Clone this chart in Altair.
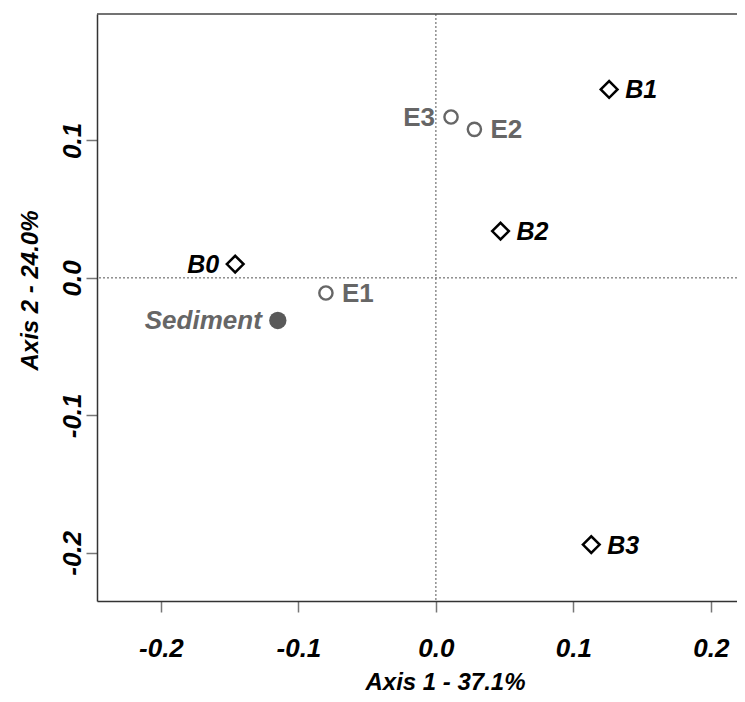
import altair as alt
import pandas as pd

# ---- data ----
labels = ["B0", "B1", "B2", "B3", "E1", "E2", "E3", "Sediment"]
axis1 = [-0.146, 0.126, 0.047, 0.113, -0.080, 0.028, 0.011, -0.115]
axis2 = [0.010, 0.137, 0.034, -0.194, -0.011, 0.108, 0.117, -0.031]
kind = ["B", "B", "B", "B", "E", "E", "E", "S"]
side = ["left", "right", "right", "right", "right", "right", "left", "left"]
tick_values = [-0.2, -0.1, 0.0, 0.1, 0.2]

df = pd.DataFrame({"lab": labels, "x": axis1, "y": axis2, "kind": kind, "side": side})
zero = pd.DataFrame({"v": [0.0]})

W, H = 640, 587
FONT = "Liberation Sans"

xscale = alt.Scale(domain=[-0.2465, 0.2190], nice=False, zero=False)
yscale = alt.Scale(domain=[-0.235, 0.1919], nice=False, zero=False)

lab_expr = "replace(format(datum.value, '.1f'), '\u2212', '-')"

xenc = alt.X("x:Q", scale=xscale, axis=alt.Axis(
    values=tick_values, labelExpr=lab_expr, title="Axis 1 - 37.1%",
    titleX=348, titleY=88, titleAnchor="start", titleAlign="center", titleBaseline="alphabetic",
    labelPadding=23, labelBaseline="top", labelFlush=False))
yenc = alt.Y("y:Q", scale=yscale, axis=alt.Axis(
    values=tick_values[:4], labelExpr=lab_expr, title="Axis 2 - 24.0%",
    titleAngle=-90, titleX=-60, titleY=276, titleAlign="center", titleBaseline="alphabetic",
    labelAngle=-90, labelAlign="center", labelBaseline="alphabetic", labelPadding=6,
    labelFlush=False))

base = alt.Chart(df)

vline = alt.Chart(zero).mark_rule(color="#555555", strokeDash=[2, 2], strokeWidth=1).encode(
    x=alt.X("v:Q", scale=xscale))
hline = alt.Chart(zero).mark_rule(color="#555555", strokeDash=[2, 2], strokeWidth=1).encode(
    y=alt.Y("v:Q", scale=yscale))
top = alt.Chart(zero).mark_rule(color="#444444", strokeWidth=1.5).encode(
    y=alt.value(0), x=alt.value(0), x2=alt.value(W))

diamonds = base.transform_filter("datum.kind == 'B'").mark_point(
    shape="diamond", filled=False, color="black", strokeWidth=2.5, size=280, opacity=1
).encode(x=xenc, y=yenc)

circles = base.transform_filter("datum.kind == 'E'").mark_point(
    shape="circle", filled=False, color="#666666", strokeWidth=2.4, size=175, opacity=1
).encode(x="x:Q", y="y:Q")

sed = base.transform_filter("datum.kind == 'S'").mark_circle(
    color="#595959", size=300, opacity=1).encode(x="x:Q", y="y:Q")


def text_layer(k, s, color, style, size):
    return base.transform_filter(f"datum.kind == '{k}' && datum.side == '{s}'").mark_text(
        align="left" if s == "right" else "right", baseline="middle",
        dx=16 if s == "right" else -16, dy=1,
        font=FONT, fontSize=size, fontWeight="bold", fontStyle=style, color=color
    ).encode(x="x:Q", y="y:Q", text="lab:N")


texts = [
    text_layer("B", "right", "black", "italic", 25),
    text_layer("B", "left", "black", "italic", 25),
    text_layer("E", "right", "#666666", "normal", 26),
    text_layer("E", "left", "#666666", "normal", 26),
    text_layer("S", "left", "#666666", "italic", 26),
]

chart = alt.layer(vline, hline, top, diamonds, circles, sed, *texts).properties(
    width=W, height=H,
    autosize=alt.AutoSizeParams(type="none"),
    padding={"left": 89, "top": 6, "right": 0, "bottom": 92},
    background="white",
).configure_view(stroke=None).configure_axis(
    grid=False, domainColor="#333333", domainWidth=1.5,
    tickColor="#777777", tickWidth=1.5, tickSize=11,
    labelFont=FONT, labelFontSize=26, labelFontWeight="bold", labelFontStyle="italic",
    labelColor="black",
    titleFont=FONT, titleFontSize=24, titleFontWeight="bold", titleFontStyle="italic",
    titleColor="black",
)

chart.save("out.html", embed_options={"renderer": "svg", "actions": False})
